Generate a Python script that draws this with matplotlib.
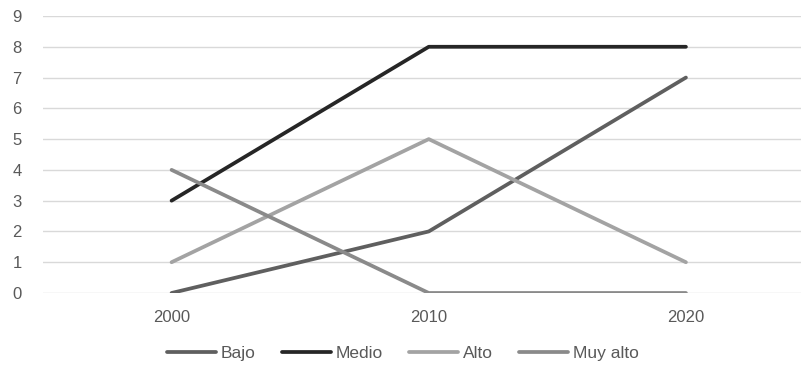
import matplotlib.pyplot as plt
import numpy as np

plt.rcParams['font.family'] = ['Liberation Sans', 'DejaVu Sans']

years = ['2000', '2010', '2020']
bajo = [0, 2, 7]
medio = [3, 8, 8]
alto = [1, 5, 1]
muy_alto = [4, 0, 0]

series = [
    ('Bajo', bajo, '#5f5f5f'),
    ('Medio', medio, '#262626'),
    ('Alto', alto, '#a3a3a3'),
    ('Muy alto', muy_alto, '#8a8a8a'),
]

fig = plt.figure(figsize=(8.01, 3.75), dpi=100)
ax = fig.add_axes([43 / 801, (375 - 293) / 375, 1 - 43 / 801, 277 / 375])

x = np.arange(len(years))
for name, vals, color in series:
    ax.plot(x, vals, color=color, lw=2.7, label=name,
            solid_capstyle='round', solid_joinstyle='round')

ax.set_xlim(-0.5, (801 - 172) / 257)
ax.set_ylim(0, 9)
ax.set_yticks(range(10))
ax.set_xticks(x)
ax.set_xticklabels(years)
ax.grid(axis='y', color='#d9d9d9', lw=1)
ax.set_axisbelow(True)
for s in ax.spines.values():
    s.set_visible(False)
ax.tick_params(length=0, colors='#595959', labelsize=12)
ax.tick_params(axis='x', pad=12)
ax.tick_params(axis='y', pad=22)
for lbl in ax.get_yticklabels():
    lbl.set_horizontalalignment('left')

fig.legend(loc='center', bbox_to_anchor=(403 / 801, 1 - 353 / 375), ncol=4,
           frameon=False, fontsize=12.5, handlelength=2.8, handletextpad=0.3,
           columnspacing=1.5, labelcolor='#595959')

fig.savefig('out.png', dpi=100)
